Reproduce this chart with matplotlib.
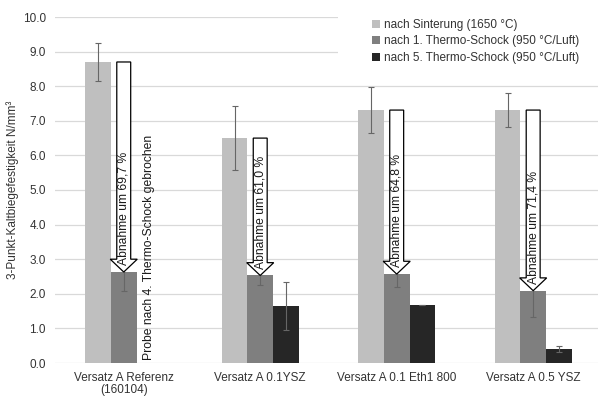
import numpy as np
import matplotlib
matplotlib.use("Agg")
import matplotlib.pyplot as plt
from matplotlib.patches import Polygon, Rectangle

plt.rcParams['font.family'] = ['Liberation Sans', 'DejaVu Sans']

# data
categories = ["Versatz A Referenz\n(160104)", "Versatz A 0.1YSZ",
              "Versatz A 0.1 Eth1 800", "Versatz A 0.5 YSZ"]
series_names = ["nach Sinterung (1650 °C)",
                "nach 1. Thermo-Schock (950 °C/Luft)",
                "nach 5. Thermo-Schock (950 °C/Luft)"]
sinter = [8.70, 6.50, 7.31, 7.31]
sinter_err = [0.56, 0.92, 0.66, 0.49]
ts1 = [2.63, 2.53, 2.57, 2.09]
ts1_err = [0.55, 0.27, 0.38, 0.77]
ts5 = [np.nan, 1.65, 1.68, 0.41]
ts5_err = [np.nan, 0.70, 0.0, 0.08]
drop_pct = ["69,7", "61,0", "64,8", "71,4"]
broken_note = "Probe nach 4. Thermo-Schock gebrochen"

colors = ['#bfbfbf', '#7f7f7f', '#262626']
text_col = '#333333'

fig = plt.figure(figsize=(5.98, 3.96), dpi=100)
ax = fig.add_axes([55.5 / 598, 33 / 396, 542.5 / 598, 346 / 396])

x = np.arange(len(categories))
w = 0.188
vals = [sinter, ts1, ts5]
errs = [sinter_err, ts1_err, ts5_err]
for i in range(3):
    ax.bar(x + (i - 1) * w, vals[i], w, color=colors[i], label=series_names[i], zorder=2,
           yerr=errs[i], error_kw=dict(ecolor='#666666', elinewidth=0.8, capsize=2, capthick=0.8))

# white arrows from sintered value down to value after first shock
shaft_hw = 0.051
head_hw = 0.099
head_len = 0.37
for i in range(len(categories)):
    xc = x[i]
    top, tip = sinter[i], ts1[i]
    verts = [(xc - shaft_hw, top), (xc + shaft_hw, top), (xc + shaft_hw, tip + head_len),
             (xc + head_hw, tip + head_len), (xc, tip), (xc - head_hw, tip + head_len),
             (xc - shaft_hw, tip + head_len)]
    ax.add_patch(Polygon(verts, closed=True, facecolor='white', edgecolor='black',
                         linewidth=0.9, zorder=4))
    ax.text(xc, tip + 0.2, f"Abnahme um {drop_pct[i]} %", rotation=90, ha='center', va='bottom',
            fontsize=8.7, color='#1a1a1a', zorder=5)

ax.text(x[0] + w, 0.08, broken_note, rotation=90, ha='center', va='bottom',
        fontsize=8.7, color='#1a1a1a', zorder=5)

ax.set_xlim(-0.5, 3.475)
ax.set_ylim(0, 10)
ax.set_yticks(np.arange(0, 11, 1))
ax.set_yticklabels([f"{v:.1f}" for v in np.arange(0, 11, 1)])
ax.set_xticks(x)
ax.set_xticklabels(categories)
for lbl in ax.get_xticklabels():
    lbl.set_linespacing(0.95)
ax.tick_params(axis='both', length=0, labelsize=8.5, labelcolor=text_col)
ax.tick_params(axis='y', pad=7)
ax.tick_params(axis='x', pad=6.5)
for s in ax.spines.values():
    s.set_visible(False)
ax.set_axisbelow(True)
ax.grid(axis='y', color='#d9d9d9', linewidth=0.9)
ax.set_ylabel("3-Punkt-Kaltbiegefestigkeit N/mm³", fontsize=8.5, color=text_col)
ax.yaxis.set_label_coords(-0.068, 0.5)

# legend area hides the top gridlines
ax.add_patch(Rectangle((0.521, 0.87), 0.6, 0.3, transform=ax.transAxes, facecolor='white',
                       edgecolor='none', zorder=1, clip_on=False))
ax.legend(loc='upper left', bbox_to_anchor=(366 / 598, 1 - 13 / 396),
          bbox_transform=fig.transFigure, frameon=False, fontsize=8.5,
          handlelength=0.7, handleheight=0.7, handletextpad=0.35, labelspacing=0.38,
          borderpad=0, labelcolor=text_col)

fig.savefig("out.png", dpi=100)
